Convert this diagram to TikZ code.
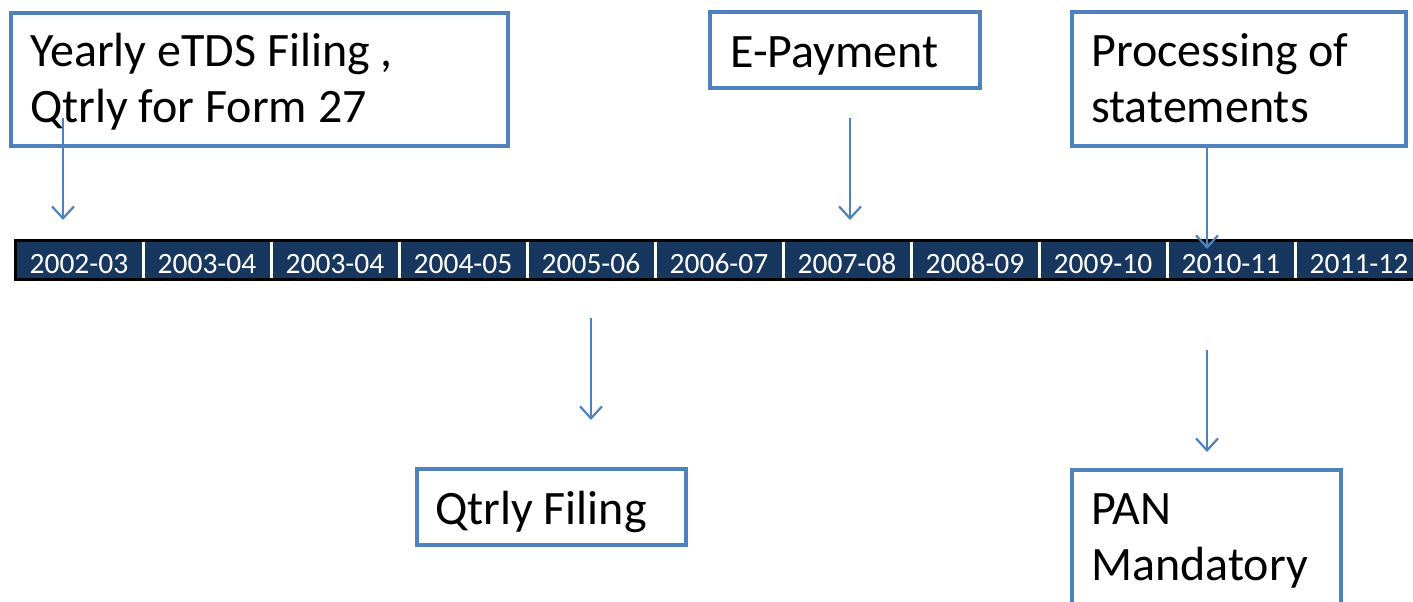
\documentclass[tikz,border=0pt]{standalone}
\usepackage{fontspec}
\setmainfont{Carlito}
\usetikzlibrary{arrows.meta}
\definecolor{boxblue}{HTML}{4F81BD}
\definecolor{navy}{HTML}{17375E}
\tikzset{
  box/.style={draw=boxblue, line width=4pt, fill=white, inner sep=0pt, outer sep=0pt, anchor=north west},
  lbl/.style={anchor=base west, inner sep=0pt, align=left, font=\fontsize{48}{56}\selectfont},
  cell/.style={anchor=base, inner sep=0pt, text=white, font=\fontsize{29.5}{32}\selectfont},
  arr/.style={draw=boxblue, line width=2.2pt, -{Straight Barb[length=12pt,width=22pt,line width=2.2pt]}},
  sep/.style={draw=white, line width=3pt}
}
\begin{document}
\begin{tikzpicture}[x=1pt,y=-1pt]
\useasboundingbox (0,0) rectangle (1413,602);
\clip (0,0) rectangle (1413,602);
% timeline bar
\draw[fill=navy, line width=3pt] (15,240.5) rectangle (1440,279.5);
\foreach \i in {1,...,10} {
  \draw[sep] ({15+128*\i},242) -- ({15+128*\i},278);
}
\foreach \lab [count=\k from 0] in {2002-03,2003-04,2003-04,2004-05,2005-06,2006-07,2007-08,2008-09,2009-10,2010-11,2011-12} {
  \node[cell] (c\k) at ({79+128*\k},273) {\lab};
}
% boxes
\node[box, minimum width=497pt, minimum height=133pt] (b1) at (11,13) {};
\node[lbl] (t1) at (30,122) {Yearly eTDS Filing ,\\Qtrly for Form 27};
\node[box, minimum width=270pt, minimum height=76pt] (b2) at (710,12) {};
\node[lbl] (t2) at (730,67) {E-Payment};
\node[box, minimum width=334pt, minimum height=134pt] (b3) at (1072,12) {};
\node[lbl] (t3) at (1091,122) {Processing of\\statements};
\node[box, minimum width=269pt, minimum height=76pt] (b4) at (417,469) {};
\node[lbl] (t4) at (435,524) {Qtrly Filing};
\node[box, minimum width=269pt, minimum height=200pt] (b5) at (1072,470) {};
\node[lbl] (t5) at (1091,580) {PAN\\Mandatory};
% arrow end points
\coordinate (s1) at (63,118);
\coordinate (e1) at (63,220);
\coordinate (s2) at (850,118);
\coordinate (e2) at (850,220);
\coordinate (e3) at (1207,249);
\coordinate (s4) at (591,318);
\coordinate (e4) at (591,420);
\coordinate (s5) at (1207,350);
\coordinate (e5) at (1207,452);
\draw[arr] (s1) -- (e1);
\draw[arr] (s2) -- (e2);
\draw[arr] (b3.south -| e3) -- (e3);
\draw[arr] (s4) -- (e4);
\draw[arr] (s5) -- (e5);
\end{tikzpicture}
\end{document}
